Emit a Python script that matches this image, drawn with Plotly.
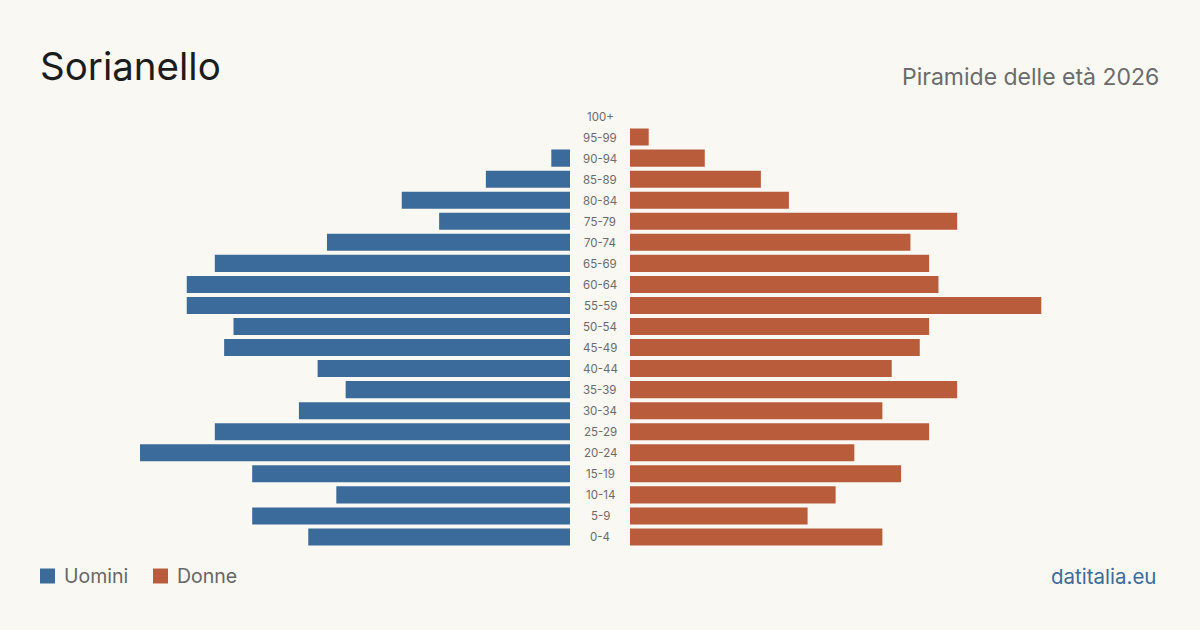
import plotly.graph_objects as go

ages = ["0-4", "5-9", "10-14", "15-19", "20-24", "25-29", "30-34", "35-39", "40-44",
        "45-49", "50-54", "55-59", "60-64", "65-69", "70-74", "75-79", "80-84",
        "85-89", "90-94", "95-99", "100+"]
men = [28, 34, 25, 34, 46, 38, 29, 24, 27, 37, 36, 41, 41, 38, 26, 14, 18, 9, 2, 0, 0]
women = [27, 19, 22, 29, 24, 32, 27, 35, 28, 31, 32, 44, 33, 32, 30, 35, 17, 14, 8, 2, 0]

series_names = ["Uomini", "Donne"]

BLUE = "#3b6b9b"
ORANGE = "#b95c3c"
BG = "#f9f8f3"
FONT = "Inter"
XMAX = 56.7

fig = go.Figure()
fig.add_trace(go.Bar(y=ages, x=men, orientation="h", name=series_names[0],
                     marker=dict(color=BLUE, line=dict(width=0)),
                     xaxis="x", yaxis="y", width=0.81, hoverinfo="x+y"))
fig.add_trace(go.Bar(y=ages, x=women, orientation="h", name=series_names[1],
                     marker=dict(color=ORANGE, line=dict(width=0)),
                     xaxis="x2", yaxis="y", width=0.81, hoverinfo="x+y"))

y0 = (630 - 547.5) / 630
y1 = (630 - 105.5) / 630

annotations = []
for a in ages:
    annotations.append(dict(x=600 / 1200, xref="paper", y=a, yref="y", text=a,
                            showarrow=False, xanchor="center", yanchor="middle",
                            yshift=-0.5,
                            font=dict(family=FONT, size=11.5, color="#6b6b6b")))
annotations += [
    dict(x=38 / 1200, y=1 - 66 / 630, xref="paper", yref="paper", text="Sorianello",
         showarrow=False, xanchor="left", yanchor="middle",
         font=dict(family=FONT, size=38.5, color="#1c1c1c")),
    dict(x=1161 / 1200, y=1 - 77 / 630, xref="paper", yref="paper",
         text="Piramide delle età 2026", showarrow=False, xanchor="right", yanchor="middle",
         font=dict(family=FONT, size=23, color="#6b6b6b")),
    dict(x=1158 / 1200, y=1 - 576 / 630, xref="paper", yref="paper",
         text="datitalia.eu", showarrow=False, xanchor="right", yanchor="middle",
         font=dict(family=FONT, size=20.5, color="#3b6b9b")),
]

# legend (manual, to match reference placement)
shapes = []
legend_items = [(series_names[0], BLUE, 40, 62), (series_names[1], ORANGE, 153, 175)]
for name, col, sx, tx in legend_items:
    shapes.append(dict(type="rect", xref="paper", yref="paper",
                       x0=sx / 1200, x1=(sx + 15) / 1200,
                       y0=1 - 583.5 / 630, y1=1 - 568.5 / 630,
                       fillcolor=col, line=dict(width=0)))
    annotations.append(dict(x=tx / 1200, y=1 - 576 / 630, xref="paper", yref="paper",
                            text=name, showarrow=False, xanchor="left", yanchor="middle",
                            font=dict(family=FONT, size=19.5, color="#666666")))

fig.update_layout(
    width=1200, height=630,
    margin=dict(l=0, r=0, t=0, b=0),
    paper_bgcolor=BG, plot_bgcolor=BG,
    barmode="overlay",
    showlegend=False,
    xaxis=dict(domain=[40 / 1200, 570 / 1200], range=[XMAX, 0], visible=False,
               fixedrange=True),
    xaxis2=dict(domain=[630 / 1200, 1160 / 1200], range=[0, XMAX], visible=False,
                fixedrange=True),
    yaxis=dict(domain=[y0, y1], range=[-0.5, 20.5], visible=False,
               categoryorder="array", categoryarray=ages, type="category"),
    annotations=annotations,
    shapes=shapes,
    font=dict(family=FONT),
)

fig.write_html("out.html")
